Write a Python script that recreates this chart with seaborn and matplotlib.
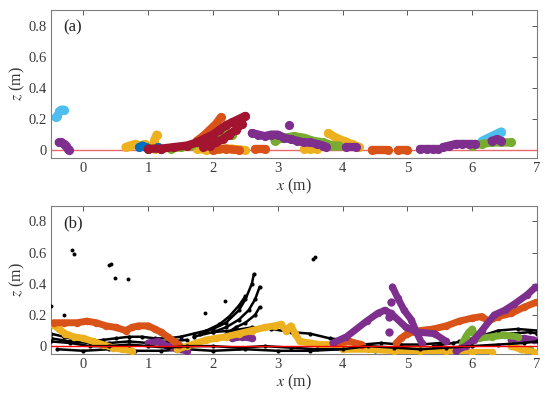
import numpy as np
import pandas as pd
import matplotlib
matplotlib.use("Agg")
import matplotlib.pyplot as plt
import seaborn as sns

# MATLAB-style colours
BLUE = "#0072BD"; ORANGE = "#D95319"; YELLOW = "#EDB120"; PURPLE = "#7E2F8E"
GREEN = "#77AC30"; LBLUE = "#4DBEEE"; DRED = "#A2142F"; BLACK = "#000000"

XTICKS = [0, 1, 2, 3, 4, 5, 6, 7]
ZTICKS = [0, 0.2, 0.4, 0.6, 0.8]
ZTICK_LABELS = ["0", "0.2", "0.4", "0.6", "0.8"]

# ---------------- panel (a) trajectories ----------------
A_LBLUE1_X = [-0.43, -0.40, -0.37, -0.34, -0.30]
A_LBLUE1_Z = [0.21, 0.22, 0.25, 0.26, 0.26]
A_LBLUE2_X = [6.15, 6.25, 6.35, 6.45]
A_LBLUE2_Z = [0.06, 0.08, 0.10, 0.12]
A_PURPLE1_X = [-0.38, -0.34, -0.30, -0.27, -0.24, -0.22]
A_PURPLE1_Z = [0.05, 0.05, 0.04, 0.03, 0.01, 0.0]
A_YELLOW1_X = [0.65, 0.72, 0.80, 0.88, 0.95, 1.02, 1.10]
A_YELLOW1_Z = [0.02, 0.03, 0.04, 0.03, 0.04, 0.02, 0.01]
A_YELLOW2_X = [1.09, 1.13]
A_YELLOW2_Z = [0.06, 0.10]
A_YELLOW3_X = [1.75, 1.9, 2.1, 2.3, 2.5]
A_YELLOW3_Z = [0.01, 0.0, 0.01, 0.01, 0.0]
A_YELLOW4_X = [3.40, 3.50, 3.60]
A_YELLOW4_Z = [0.01, 0.01, 0.01]
A_YELLOW5_X = [3.78, 3.90, 4.02, 4.14, 4.26]
A_YELLOW5_Z = [0.11, 0.08, 0.06, 0.04, 0.02]
A_BLUE1_X = [0.86, 0.91, 0.96, 1.0]
A_BLUE1_Z = [0.02, 0.03, 0.02, 0.01]
A_BLUE2_X = [1.15, 1.2]
A_BLUE2_Z = [0.02, 0.01]
A_GREEN1_X = [1.35, 1.5, 1.65, 1.8, 1.9, 2.0, 2.1, 2.2, 2.3]
A_GREEN1_Z = [0.01, 0.02, 0.03, 0.05, 0.07, 0.08, 0.10, 0.11, 0.10]
A_GREEN2_X = [2.95, 3.1, 3.25, 3.4, 3.55, 3.7, 3.85, 3.95]
A_GREEN2_Z = [0.06, 0.08, 0.09, 0.08, 0.06, 0.05, 0.03, 0.03]
A_GREEN3_X = [6.0, 6.15, 6.3, 6.45, 6.6]
A_GREEN3_Z = [0.03, 0.04, 0.05, 0.05, 0.05]
A_ORANGE1_X = [1.75, 1.85, 1.95, 2.05, 2.12]
A_ORANGE1_Z = [0.06, 0.09, 0.13, 0.17, 0.21]
A_ORANGE2_X = [2.0, 2.2, 2.4]
A_ORANGE2_Z = [0.0, 0.01, 0.0]
A_ORANGE3_X = [2.65, 2.8]
A_ORANGE3_Z = [0.01, 0.01]
A_ORANGE4_X = [4.45, 4.7]
A_ORANGE4_Z = [0.0, 0.0]
A_ORANGE5_X = [4.85, 5.0]
A_ORANGE5_Z = [0.0, 0.0]
A_DRED1_X = [1.0, 1.2, 1.4, 1.6, 1.75, 1.9, 2.0, 2.1, 2.2, 2.3, 2.4, 2.5]
A_DRED1_Z = [0.01, 0.01, 0.02, 0.03, 0.05, 0.08, 0.10, 0.13, 0.16, 0.18, 0.20, 0.22]
A_DRED2_X = [1.85, 1.95, 2.05, 2.15, 2.25, 2.35, 2.45]
A_DRED2_Z = [0.02, 0.03, 0.05, 0.07, 0.10, 0.13, 0.17]
A_PURPLE2_X = [2.6, 2.7, 2.8, 2.9, 3.0, 3.1, 3.2, 3.3, 3.4, 3.5, 3.6, 3.7, 3.75]
A_PURPLE2_Z = [0.11, 0.10, 0.09, 0.10, 0.10, 0.08, 0.07, 0.06, 0.05, 0.05, 0.04, 0.03, 0.02]
A_PURPLE3_X = [4.05, 4.2]
A_PURPLE3_Z = [0.02, 0.02]
A_PURPLE4_X = [5.2, 5.3, 5.4, 5.47]
A_PURPLE4_Z = [0.01, 0.01, 0.01, 0.01]
A_PURPLE5_X = [5.55, 5.65, 5.75, 5.85, 5.95, 6.05]
A_PURPLE5_Z = [0.02, 0.03, 0.04, 0.04, 0.04, 0.04]
A_PURPLE6_X = [6.3, 6.38, 6.45]
A_PURPLE6_Z = [0.06, 0.07, 0.06]
A_DOT_X = [3.17]
A_DOT_Z = [0.16]

# ---------------- panel (b) trajectories ----------------
B_ORANGE1_X = [-0.46, -0.3, -0.1, 0.05, 0.2, 0.35, 0.5, 0.65, 0.75, 0.85, 1.0, 1.1, 1.2, 1.3, 1.4, 1.47]
B_ORANGE1_Z = [0.15, 0.15, 0.15, 0.16, 0.15, 0.13, 0.12, 0.10, 0.12, 0.13, 0.13, 0.11, 0.09, 0.06, 0.03, 0.01]
B_ORANGE2_X = [4.83, 4.9, 5.0, 5.2, 5.4, 5.6, 5.8, 6.0, 6.15, 6.25, 6.4, 6.6, 6.8, 6.98]
B_ORANGE2_Z = [0.02, 0.05, 0.08, 0.10, 0.11, 0.13, 0.16, 0.18, 0.19, 0.16, 0.19, 0.21, 0.25, 0.28]
B_ORANGE3_X = [3.9, 4.1, 4.3]
B_ORANGE3_Z = [0.02, 0.03, 0.01]
B_YELLOW1_X = [-0.48, -0.38, -0.28, -0.15, 0.0, 0.15, 0.3, 0.45, 0.6, 0.75]
B_YELLOW1_Z = [0.14, 0.11, 0.08, 0.06, 0.05, 0.03, 0.01, -0.01, -0.02, -0.03]
B_YELLOW2_X = [1.45, 1.6, 1.75, 1.9, 2.05, 2.2, 2.4, 2.6, 2.8, 2.95, 3.05, 3.13, 3.2, 3.27, 3.34, 3.5, 3.65, 3.8, 4.0]
B_YELLOW2_Z = [-0.02, 0.0, 0.02, 0.04, 0.05, 0.06, 0.08, 0.10, 0.12, 0.13, 0.14, 0.10, 0.13, 0.08, 0.03, 0.02, 0.01, 0.01, 0.0]
B_YELLOW3_X = [4.0, 4.4, 4.8, 5.2, 5.6, 6.0, 6.3]
B_YELLOW3_Z = [-0.02, -0.02, -0.03, -0.03, -0.03, -0.04, -0.04]
B_YELLOW4_X = [6.6, 6.75, 6.95]
B_YELLOW4_Z = [0.0, -0.02, -0.04]
B_PURPLE1_X = [3.85, 4.06, 4.37, 4.54, 4.65, 4.75, 4.98, 5.15, 5.42, 5.6]
B_PURPLE1_Z = [0.02, 0.06, 0.16, 0.21, 0.23, 0.21, 0.12, 0.09, 0.08, 0.03]
B_PURPLE2_X = [4.77, 4.85, 4.95, 5.06, 5.14, 5.22]
B_PURPLE2_Z = [0.38, 0.31, 0.23, 0.17, 0.09, 0.02]
B_PURPLE3_X = [5.75, 5.9, 6.03, 6.15, 6.34, 6.5, 6.65, 6.85, 6.98]
B_PURPLE3_Z = [-0.03, 0.0, 0.04, 0.10, 0.20, 0.23, 0.27, 0.33, 0.38]
B_PURPLE4_X = [1.0, 1.15, 1.3, 1.45, 1.6]
B_PURPLE4_Z = [0.02, 0.03, 0.0, -0.02, -0.03]
B_PURPLE5_X = [2.3, 2.45, 2.6]
B_PURPLE5_Z = [0.05, 0.06, 0.05]
B_PURPLE6_X = [6.6, 6.8, 6.95]
B_PURPLE6_Z = [0.04, 0.05, 0.04]
B_PDOT_X = [4.75, 4.72, 4.72]
B_PDOT_Z = [0.28, 0.19, 0.09]
B_GREEN1_X = [5.85, 5.9, 5.95, 6.0, 6.05]
B_GREEN1_Z = [0.02, 0.06, 0.09, 0.11, 0.06]
B_GREEN2_X = [6.1, 6.3, 6.5, 6.7]
B_GREEN2_Z = [0.05, 0.06, 0.07, 0.06]
B_GREEN3_X = [6.75, 6.9]
B_GREEN3_Z = [-0.02, -0.02]

B_K1_X = [-0.5, -0.3, -0.1, 0.1, 0.3, 0.5, 0.7, 0.9, 1.1, 1.3, 1.5, 1.7, 1.9]
B_K1_Z = [0.08, 0.06, 0.04, 0.03, 0.04, 0.05, 0.06, 0.06, 0.05, 0.05, 0.06, 0.08, 0.10]
B_K2_X = [-0.5, -0.2, 0.1, 0.4, 0.7, 1.0, 1.3, 1.6, 2.0, 2.4, 2.8, 3.2, 3.6, 4.0, 4.4, 4.8, 5.2, 5.6, 6.0, 6.4, 6.8, 7.0]
B_K2_Z = [0.03, 0.02, 0.0, 0.0, 0.01, 0.0, -0.01, 0.0, 0.0, -0.01, 0.0, -0.01, -0.02, -0.02, 0.0, -0.01, -0.02, -0.01, 0.0, 0.01, 0.02, 0.03]
B_K3_X = [-0.4, 0.0, 0.4, 0.8, 1.2, 1.6, 2.0, 2.5, 3.0, 3.5, 4.0, 4.5, 5.0, 5.5]
B_K3_Z = [-0.02, -0.03, -0.02, -0.03, -0.03, -0.02, -0.03, -0.02, -0.03, -0.03, -0.02, -0.03, -0.02, -0.03]
B_K4_X = [1.7, 2.0, 2.3, 2.6, 2.9, 3.2, 3.5, 3.8, 4.0]
B_K4_Z = [0.06, 0.09, 0.10, 0.12, 0.11, 0.09, 0.08, 0.05, 0.04]
B_K8_X = [-0.5, -0.2, 0.1, 0.4, 0.7, 1.0, 1.3, 1.6]
B_K8_Z = [0.05, 0.03, 0.02, 0.02, 0.03, 0.02, 0.03, 0.04]
B_F1_X = [1.8, 2.0, 2.2, 2.4, 2.5, 2.6, 2.63]
B_F1_Z = [0.08, 0.11, 0.15, 0.23, 0.30, 0.40, 0.46]
B_F2_X = [2.0, 2.2, 2.4, 2.55, 2.65, 2.72]
B_F2_Z = [0.09, 0.12, 0.17, 0.23, 0.30, 0.38]
B_F3_X = [1.9, 2.1, 2.25, 2.4, 2.5]
B_F3_Z = [0.10, 0.14, 0.19, 0.26, 0.32]
B_F4_X = [2.2, 2.35, 2.5, 2.65, 2.72]
B_F4_Z = [0.08, 0.12, 0.15, 0.20, 0.25]
B_K5_X = [5.4, 5.7, 6.0, 6.3, 6.6, 6.9, 7.0]
B_K5_Z = [0.0, 0.02, 0.04, 0.06, 0.08, 0.09, 0.08]
B_K6_X = [5.8, 6.1, 6.4, 6.7, 7.0]
B_K6_Z = [0.03, 0.06, 0.10, 0.11, 0.10]
B_K7_X = [3.7, 4.0, 4.3, 4.6, 4.9, 5.2, 5.5]
B_K7_Z = [0.01, 0.02, 0.01, 0.02, 0.01, 0.01, 0.02]
B_KDOT_X = [-0.17, -0.15, 0.40, 0.43, 0.49, 0.69, -0.5, -0.3, 1.88, 2.18, 3.55, 3.58]
B_KDOT_Z = [0.62, 0.59, 0.52, 0.53, 0.44, 0.43, 0.26, 0.20, 0.21, 0.29, 0.56, 0.57]

A_TRACKS = [
    (A_LBLUE1_X, A_LBLUE1_Z, LBLUE), (A_LBLUE2_X, A_LBLUE2_Z, LBLUE),
    (A_YELLOW1_X, A_YELLOW1_Z, YELLOW), (A_YELLOW2_X, A_YELLOW2_Z, YELLOW),
    (A_YELLOW3_X, A_YELLOW3_Z, YELLOW), (A_YELLOW4_X, A_YELLOW4_Z, YELLOW),
    (A_YELLOW5_X, A_YELLOW5_Z, YELLOW),
    (A_BLUE1_X, A_BLUE1_Z, BLUE), (A_BLUE2_X, A_BLUE2_Z, BLUE),
    (A_ORANGE1_X, A_ORANGE1_Z, ORANGE), (A_ORANGE2_X, A_ORANGE2_Z, ORANGE),
    (A_ORANGE3_X, A_ORANGE3_Z, ORANGE), (A_ORANGE4_X, A_ORANGE4_Z, ORANGE),
    (A_ORANGE5_X, A_ORANGE5_Z, ORANGE),
    (A_GREEN1_X, A_GREEN1_Z, GREEN), (A_GREEN2_X, A_GREEN2_Z, GREEN),
    (A_GREEN3_X, A_GREEN3_Z, GREEN),
    (A_DRED1_X, A_DRED1_Z, DRED), (A_DRED2_X, A_DRED2_Z, DRED),
    (A_PURPLE1_X, A_PURPLE1_Z, PURPLE), (A_PURPLE2_X, A_PURPLE2_Z, PURPLE),
    (A_PURPLE3_X, A_PURPLE3_Z, PURPLE), (A_PURPLE4_X, A_PURPLE4_Z, PURPLE),
    (A_PURPLE5_X, A_PURPLE5_Z, PURPLE), (A_PURPLE6_X, A_PURPLE6_Z, PURPLE),
]
B_BLACK = [
    (B_K1_X, B_K1_Z), (B_K3_X, B_K3_Z), (B_K4_X, B_K4_Z), (B_K8_X, B_K8_Z),
    (B_F1_X, B_F1_Z), (B_F2_X, B_F2_Z), (B_F3_X, B_F3_Z), (B_F4_X, B_F4_Z),
    (B_K5_X, B_K5_Z), (B_K6_X, B_K6_Z), (B_K7_X, B_K7_Z),
]
B_TRACKS = [
    (B_PURPLE4_X, B_PURPLE4_Z, PURPLE), (B_PURPLE5_X, B_PURPLE5_Z, PURPLE),
    (B_PURPLE6_X, B_PURPLE6_Z, PURPLE),
    (B_GREEN1_X, B_GREEN1_Z, GREEN), (B_GREEN2_X, B_GREEN2_Z, GREEN),
    (B_GREEN3_X, B_GREEN3_Z, GREEN),
    (B_YELLOW1_X, B_YELLOW1_Z, YELLOW), (B_YELLOW2_X, B_YELLOW2_Z, YELLOW),
    (B_YELLOW3_X, B_YELLOW3_Z, YELLOW), (B_YELLOW4_X, B_YELLOW4_Z, YELLOW),
    (B_ORANGE1_X, B_ORANGE1_Z, ORANGE), (B_ORANGE2_X, B_ORANGE2_Z, ORANGE),
    (B_ORANGE3_X, B_ORANGE3_Z, ORANGE),
    (B_PURPLE1_X, B_PURPLE1_Z, PURPLE), (B_PURPLE2_X, B_PURPLE2_Z, PURPLE),
    (B_PURPLE3_X, B_PURPLE3_Z, PURPLE),
]

sns.set_theme(style="white")
plt.rcParams["font.family"] = ["Liberation Serif", "DejaVu Serif"]
plt.rcParams["mathtext.fontset"] = "stix"

fig = plt.figure(figsize=(5.5, 3.99), dpi=100)
ax1 = fig.add_axes([0.0927, 0.604, 0.8836, 0.371])
ax2 = fig.add_axes([0.0927, 0.113, 0.8836, 0.371])


def track(ax, xs, zs, color, lw, ms, z=2):
    df = pd.DataFrame({"x": xs, "z": zs})
    sns.lineplot(data=df, x="x", y="z", ax=ax, color=color, sort=False,
                 estimator=None, linewidth=lw, marker="o", markersize=ms,
                 markeredgewidth=0, solid_capstyle="round", zorder=z)


# panel (a)
ax1.axhline(0, color="#E8696B", lw=1.0, zorder=1)
for xs, zs, c in A_TRACKS:
    track(ax1, xs, zs, c, 6.0, 6.6)
sns.scatterplot(x=A_DOT_X, y=A_DOT_Z, ax=ax1, color=PURPLE, s=44, linewidth=0, zorder=3)

# panel (b)
for xs, zs in B_BLACK:
    track(ax2, xs, zs, BLACK, 1.8, 3.0, z=2)
for xs, zs, c in B_TRACKS:
    track(ax2, xs, zs, c, 5.0, 5.4, z=3)
track(ax2, B_K2_X, B_K2_Z, BLACK, 1.8, 3.0, z=4)
ax2.axhline(0, color="#FF0000", lw=1.0, zorder=5)
sns.scatterplot(x=B_PDOT_X, y=B_PDOT_Z, ax=ax2, color=PURPLE, s=36, linewidth=0, zorder=4)
sns.scatterplot(x=B_KDOT_X, y=B_KDOT_Z, ax=ax2, color=BLACK, s=8, linewidth=0, zorder=4)

for ax, lab in [(ax1, "(a)"), (ax2, "(b)")]:
    ax.set_xlim(-0.5, 7)
    ax.set_ylim(-0.05, 0.9)
    ax.set_xticks(XTICKS)
    ax.set_yticks(ZTICKS)
    ax.set_yticklabels(ZTICK_LABELS)
    ax.tick_params(direction="in", length=3.5, width=0.7, colors="#555555",
                   labelsize=10.5, top=True, right=True, pad=3)
    ax.tick_params(axis="both", labelcolor="#3a3a3a")
    ax.tick_params(axis="x", labeltop=False)
    ax.tick_params(axis="y", labelright=False)
    for s in ax.spines.values():
        s.set_color("#7f7f7f")
        s.set_linewidth(0.8)
    ax.set_xlabel(r"$x$ (m)", fontsize=11.5, color="#333333", labelpad=1)
    ax.set_ylabel(r"$z$ (m)", fontsize=11.5, color="#333333", labelpad=1)
    ax.text(0.026, 0.935, lab, transform=ax.transAxes, fontsize=12,
            color="#222222", va="top", ha="left")
    if ax.get_legend():
        ax.get_legend().remove()

fig.savefig("out.png", dpi=100)
